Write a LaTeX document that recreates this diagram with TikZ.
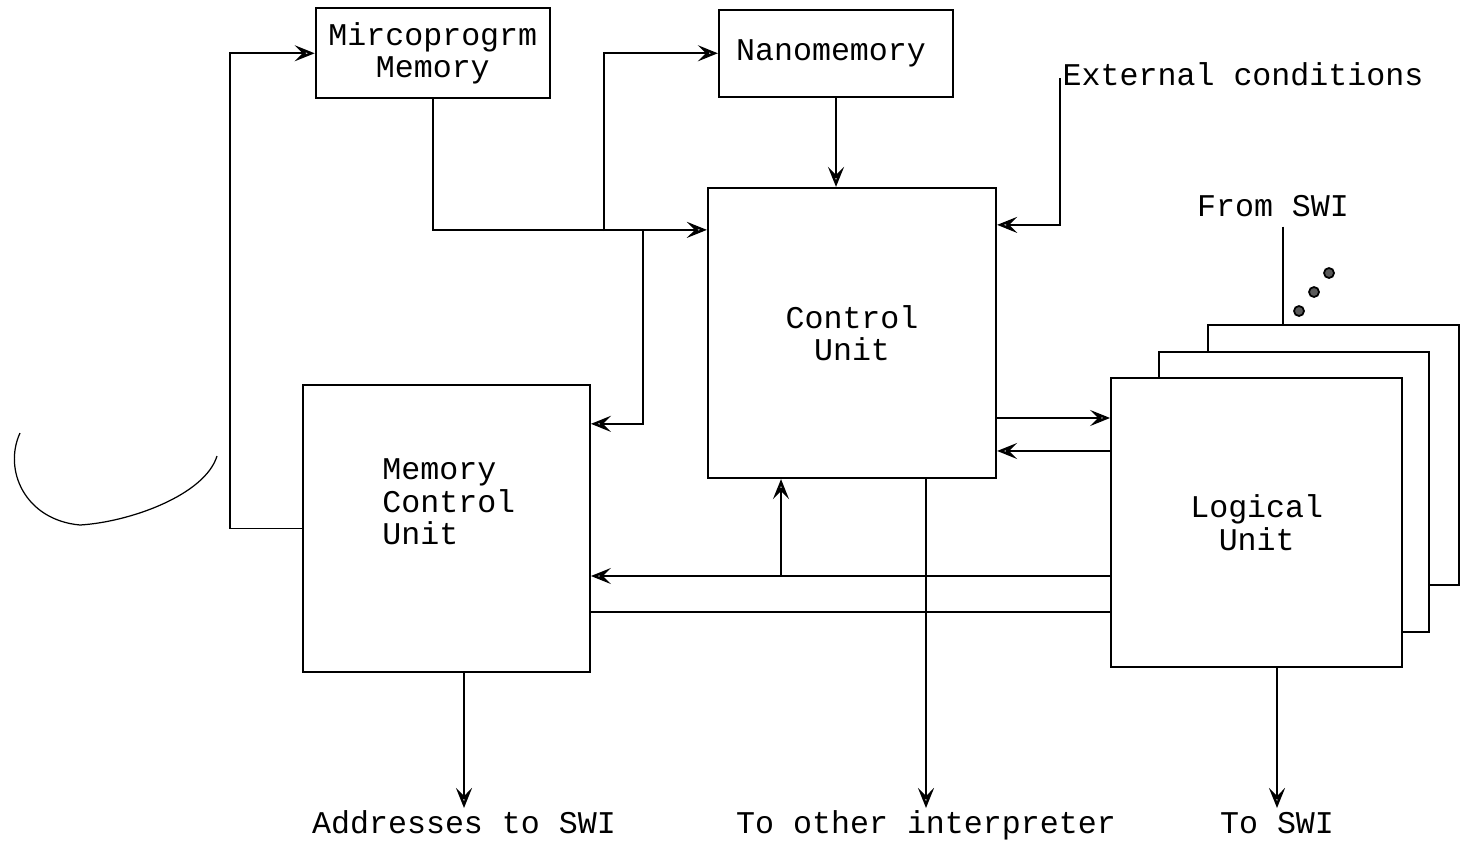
\documentclass[tikz,border=0pt]{standalone}
\usepackage{fontspec}
\setmonofont{Liberation Mono}
\usetikzlibrary{positioning,arrows.meta,calc,backgrounds}

\begin{document}
\begin{tikzpicture}[x=0.02cm, y=-0.02cm, line width=1.1pt,
    >={Stealth[open, length=4mm, width=3.2mm, inset=1.6mm, line width=1.4pt]},
    font=\ttfamily\fontsize{18}{18.5}\selectfont,
    block/.style={draw, rectangle, line width=1.3pt, fill=white, inner sep=0pt},
    lbl/.style={inner sep=1pt, text height=13pt, text depth=4pt}]
  \useasboundingbox (0,0) rectangle (1466,846);

  \node[block, minimum width=5.76cm, minimum height=5.8cm, align=center] (CU) at (852,333) {Control\\Unit};
  \node[block, minimum width=4.68cm, minimum height=1.74cm, above=1.78cm of CU, xshift=-0.32cm] (Nano) {Nanomemory\hspace*{0.2cm}};
  \node[block, minimum width=4.68cm, minimum height=1.8cm, left=3.34cm of Nano, align=center] (Micro) {Mircoprogrm\\Memory};
  \node[block, minimum width=5.74cm, minimum height=5.74cm, left=2.32cm of CU, yshift=-3.91cm] (MCU) {};
  \node[align=left] (MCUtxt) at ([xshift=0.05cm, yshift=0.53cm]MCU.center) {Memory\\Control\\Unit};
  \node[block, minimum width=5.82cm, minimum height=5.78cm, right=2.26cm of CU, yshift=-3.79cm, align=center] (LU) {Logical\\Unit};

  % stacked copies of the logical unit
  \begin{scope}[on background layer]
    \node[block, minimum width=5.02cm, minimum height=5.2cm, xshift=1.54cm, yshift=1.35cm] (LU3) at (LU) {};
    \node[block, minimum width=5.4cm, minimum height=5.6cm, xshift=0.75cm, yshift=0.61cm] (LU2) at (LU) {};
  \end{scope}

  \node[lbl, anchor=west] (ext) at (1060,78) {External conditions};
  \node[lbl] (fromswi) at (1273,209) {From SWI};
  \node[lbl, anchor=north] (addr) at (464,808) {Addresses to SWI};
  \node[lbl, anchor=north] (other) at (926,808) {To other interpreter};
  \node[lbl, anchor=north] (toswi) at (1277,808) {To SWI};

  \coordinate (split) at ([yshift=-0.86cm]CU.north west);
  \coordinate (tapN) at (604,231);
  \coordinate (tapM) at (643,231);
  \coordinate (tapC) at (781,576);

  \draw[->] (MCU.west) -- ++(-72,0) |- (Micro.west);
  \draw[->] (Micro.south) |- (split);
  \draw[->] (tapN) |- (Nano.west);
  \draw[->] (tapM) |- ([yshift=-0.8cm]MCU.north east);
  \draw[->] (Nano.south) -- (Nano.south |- CU.north);
  \draw[->] (ext.west) |- ([yshift=-0.76cm]CU.north east);

  \draw[->] ([yshift=-1.7cm]CU.east) -- ([yshift=-1.7cm]CU.east -| LU.west);
  \draw[->] ([yshift=-2.36cm]CU.east -| LU.west) -- ([yshift=-2.36cm]CU.east);
  \draw[->] (tapC -| LU.west) -- (tapC -| MCU.east);
  \draw[->] (tapC) -- (tapC |- CU.south);
  \draw ([yshift=-1.67cm]MCU.east) -- ([yshift=-1.67cm]MCU.east -| LU.west);

  \draw[->] (MCU.south -| addr) -- (addr.north);
  \draw[->] (CU.south -| other) -- (other.north);
  \draw[->] (LU.south -| toswi) -- (toswi.north);
  \draw ([xshift=0.2cm]fromswi.south) -- ([xshift=0.2cm]fromswi.south |- LU3.north);

  \foreach \p in {(1299,311),(1314,292),(1329,273)}
    \filldraw[fill=black!65, line width=1pt] \p circle[radius=5];

  \draw[line width=0.7pt] (20,433) .. controls (3,470) and (25,520) .. (80,525)
    .. controls (130,522) and (205,495) .. (217,456);
\end{tikzpicture}
\end{document}
